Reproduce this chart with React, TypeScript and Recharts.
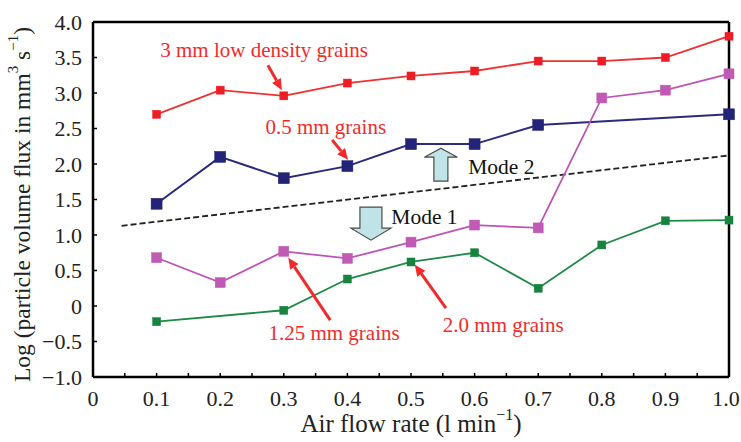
import React, { useEffect } from 'react';
import { LineChart, Line, XAxis, YAxis, ReferenceLine, ReferenceDot } from 'recharts';

// air flow rate (l/min)
const airFlow = [0.1, 0.2, 0.3, 0.4, 0.5, 0.6, 0.7, 0.8, 0.9, 1.0];
// log particle volume flux per grain type
const lowDensity3mm = [2.7, 3.04, 2.96, 3.14, 3.24, 3.31, 3.45, 3.45, 3.5, 3.8];
const grains05mm = [1.44, 2.1, 1.8, 1.97, 2.28, 2.28, 2.55, null, null, 2.7];
const grains125mm = [0.68, 0.33, 0.77, 0.67, 0.9, 1.14, 1.1, 2.93, 3.04, 3.27];
const grains20mm = [-0.22, null, -0.06, 0.38, 0.62, 0.75, 0.25, 0.86, 1.2, 1.21];
// mode boundary (dashed)
const boundaryX = [0.045, 1.0];
const boundaryY = [1.13, 2.12];

const xTicks = [0, 0.05, 0.1, 0.15, 0.2, 0.25, 0.3, 0.35, 0.4, 0.45, 0.5, 0.55, 0.6, 0.65, 0.7, 0.75, 0.8, 0.85, 0.9, 0.95, 1.0];
const yTicks = [-1, -0.5, 0, 0.5, 1, 1.5, 2, 2.5, 3, 3.5, 4];

const data = airFlow.map((x, i) => ({
  x,
  low3: lowDensity3mm[i],
  g05: grains05mm[i],
  g125: grains125mm[i],
  g20: grains20mm[i],
}));
const boundary = boundaryX.map((x, i) => ({ x, b: boundaryY[i] }));

const FONT = '"Liberation Serif", "Times New Roman", serif';
const RED = '#f42a2a';

const fmtY = (v: number) => {
  if (v === 0) return '0';
  const s = Math.abs(v).toFixed(1);
  return v < 0 ? '\u2212' + s : s;
};

const XTick = (props: any) => {
  const { x, y, payload } = props;
  const v = payload.value;
  const major = Math.abs(Math.round(v * 10) - v * 10) < 1e-6;
  // last label sits at the page edge, nudge it in
  const lx = v >= 1 ? x - 3 : x;
  return (
    <g>
      {v > 0 && v < 1 && <line x1={x} y1={y} x2={x} y2={y - 4} stroke="#000" strokeWidth={1.5} />}
      {major && (
        <text x={lx} y={y + 21} textAnchor="middle" dominantBaseline="central" fontFamily={FONT} fontSize={22} fill="#222">
          {v === 0 ? '0' : v.toFixed(1)}
        </text>
      )}
    </g>
  );
};

const YTick = (props: any) => {
  const { x, y, payload } = props;
  const v = payload.value;
  return (
    <g>
      {v > -1 && v < 4 && <line x1={x} y1={y} x2={x + 4} y2={y} stroke="#000" strokeWidth={1.5} />}
      <text x={x - 11} y={y} textAnchor="end" dominantBaseline="central" fontFamily={FONT} fontSize={22} fill="#222">
        {fmtY(v)}
      </text>
    </g>
  );
};

const XTitle = (props: any) => {
  const vb = props.viewBox;
  return (
    <text x={vb.x + vb.width / 2} y={vb.y + 46} textAnchor="middle" dominantBaseline="central" fontFamily={FONT} fontSize={25} fill="#222">
      Air flow rate (l min<tspan dy={-9} fontSize={16}>{'\u22121'}</tspan><tspan dy={9}>)</tspan>
    </text>
  );
};

const YTitle = (props: any) => {
  const vb = props.viewBox;
  const cx = 22;
  const cy = vb.y + vb.height / 2 + 5;
  return (
    <text x={cx} y={cy} transform={`rotate(-90 ${cx} ${cy})`} textAnchor="middle" dominantBaseline="central" fontFamily={FONT} fontSize={23.5} fill="#222">
      Log (particle volume flux in mm<tspan dy={-9} fontSize={15}>3</tspan><tspan dy={9}> s</tspan><tspan dy={-9} fontSize={15}>{'\u22121'}</tspan><tspan dy={9}>)</tspan>
    </text>
  );
};

const Square = (props: any) => {
  const { cx, cy, size, fill, stroke } = props;
  if (cx == null || cy == null || props.value == null) return null;
  return <rect x={cx - size / 2} y={cy - size / 2} width={size} height={size} fill={fill} stroke={stroke} strokeWidth={0.5} />;
};

const RedArrow = (props: any) => {
  const { x1, y1, x2, y2 } = props;
  if (x1 == null) return null;
  const ang = Math.atan2(y2 - y1, x2 - x1);
  const len = 11;
  const w = 5;
  const bx = x2 - len * Math.cos(ang);
  const by = y2 - len * Math.sin(ang);
  const px = -Math.sin(ang) * w;
  const py = Math.cos(ang) * w;
  return (
    <g>
      <line x1={x1} y1={y1} x2={bx} y2={by} stroke={RED} strokeWidth={3} />
      <polygon points={`${x2},${y2} ${bx + px},${by + py} ${bx - px},${by - py}`} fill={RED} />
    </g>
  );
};

const textShape = (label: string, color: string, anchor: 'start' | 'middle', size = 21) => (p: any) => (
  <text x={p.cx} y={p.cy} textAnchor={anchor} dominantBaseline="central" fontFamily={FONT} fontSize={size} fill={color}>
    {label}
  </text>
);

// block arrow drawn around a centre point, dir -1 = up, 1 = down
const blockArrow = (dir: number, shaftW: number, headW: number, total: number, headH: number) => (p: any) => {
  const { cx, cy } = p;
  const h = total / 2;
  const tipY = cy + dir * h;
  const tailY = cy - dir * h;
  const baseY = tipY - dir * headH;
  const pts = [
    [cx - shaftW / 2, tailY],
    [cx + shaftW / 2, tailY],
    [cx + shaftW / 2, baseY],
    [cx + headW / 2, baseY],
    [cx, tipY],
    [cx - headW / 2, baseY],
    [cx - shaftW / 2, baseY],
  ]
    .map((q) => q.join(','))
    .join(' ');
  return <polygon points={pts} fill="#bfe3e6" stroke="#4a4a4a" strokeWidth={1.2} />;
};

export default function App() {
  useEffect(() => {
    document.body.style.margin = '0';
  }, []);
  return (
    <div style={{ width: 741, height: 442, background: '#fff' }}>
      <LineChart width={741} height={442} data={data} margin={{ top: 22, right: 12, left: 0, bottom: 0 }}>
        <XAxis
          dataKey="x"
          type="number"
          domain={[0, 1]}
          ticks={xTicks}
          interval={0}
          tick={<XTick />}
          tickLine={false}
          tickSize={0}
          tickMargin={0}
          height={65}
          axisLine={{ stroke: '#000', strokeWidth: 2.5 }}
          label={<XTitle />}
        />
        <YAxis
          type="number"
          domain={[-1, 4]}
          ticks={yTicks}
          interval={0}
          tick={<YTick />}
          tickLine={false}
          tickSize={0}
          tickMargin={0}
          width={93}
          axisLine={{ stroke: '#000', strokeWidth: 2.5 }}
          label={<YTitle />}
        />
        <ReferenceLine y={4} stroke="#000" strokeWidth={2.5} />
        <ReferenceLine x={1} stroke="#000" strokeWidth={2.5} />

        <Line data={boundary} dataKey="b" stroke="#222" strokeWidth={1.8} strokeDasharray="6 3" dot={false} isAnimationActive={false} />
        <Line dataKey="low3" stroke="#f23030" strokeWidth={1.8} dot={<Square size={8} fill="#ee1c24" stroke="#ee1c24" />} activeDot={false} isAnimationActive={false} />
        <Line dataKey="g05" stroke="#2b2b7e" strokeWidth={2} connectNulls dot={<Square size={11} fill="#232378" stroke="#232378" />} activeDot={false} isAnimationActive={false} />
        <Line dataKey="g125" stroke="#c052b8" strokeWidth={1.8} dot={<Square size={10} fill="#c05ab4" stroke="#c05ab4" />} activeDot={false} isAnimationActive={false} />
        <Line dataKey="g20" stroke="#1f8a45" strokeWidth={1.8} connectNulls dot={<Square size={8} fill="#16843e" stroke="#16843e" />} activeDot={false} isAnimationActive={false} />

        <ReferenceLine segment={[{ x: 0.275, y: 3.39 }, { x: 0.297, y: 3.04 }]} shape={<RedArrow />} />
        <ReferenceLine segment={[{ x: 0.376, y: 2.34 }, { x: 0.401, y: 2.06 }]} shape={<RedArrow />} />
        <ReferenceLine segment={[{ x: 0.373, y: -0.2 }, { x: 0.307, y: 0.68 }]} shape={<RedArrow />} />
        <ReferenceLine segment={[{ x: 0.555, y: -0.03 }, { x: 0.506, y: 0.58 }]} shape={<RedArrow />} />

        <ReferenceDot x={0.269} y={3.61} shape={textShape('3 mm low density grains', RED, 'middle')} />
        <ReferenceDot x={0.366} y={2.52} shape={textShape('0.5 mm grains', RED, 'middle')} />
        <ReferenceDot x={0.379} y={-0.38} shape={textShape('1.25 mm grains', RED, 'middle')} />
        <ReferenceDot x={0.645} y={-0.27} shape={textShape('2.0 mm grains', RED, 'middle')} />

        <ReferenceDot x={0.547} y={1.99} shape={blockArrow(-1, 14, 33, 33, 9)} />
        <ReferenceDot x={0.59} y={1.96} shape={textShape('Mode 2', '#111', 'start', 21.5)} />
        <ReferenceDot x={0.437} y={1.16} shape={blockArrow(1, 22, 40, 33, 12)} />
        <ReferenceDot x={0.469} y={1.25} shape={textShape('Mode 1', '#111', 'start', 21.5)} />
      </LineChart>
    </div>
  );
}
